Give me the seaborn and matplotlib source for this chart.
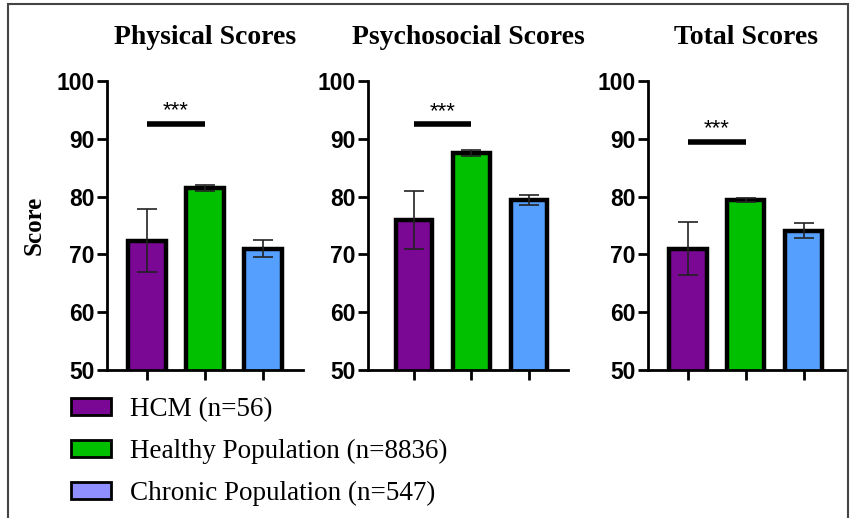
import numpy as np
import pandas as pd
import seaborn as sns
import matplotlib.pyplot as plt
from matplotlib.patches import Patch, Rectangle

# data
groups = ['HCM (n=56)', 'Healthy Population (n=8836)', 'Chronic Population (n=547)']
panels = ['Physical Scores', 'Psychosocial Scores', 'Total Scores']
means = {
    'Physical Scores': [72.4, 81.5, 71.0],
    'Psychosocial Scores': [76.0, 87.5, 79.4],
    'Total Scores': [71.0, 79.4, 74.1],
}
errs = {
    'Physical Scores': [5.4, 0.5, 1.5],
    'Psychosocial Scores': [5.0, 0.5, 0.8],
    'Total Scores': [4.6, 0.3, 1.3],
}
sig_level = [92.6, 92.5, 89.5]
yticks = [50, 60, 70, 80, 90, 100]

bar_colors = ['#7a0895', '#00c000', '#55a0ff']
legend_colors = ['#7a0895', '#00c000', '#8f8fff']

sns.set_style('ticks')
plt.rcParams['font.family'] = ['Liberation Sans', 'DejaVu Sans']
plt.rcParams['text.color'] = 'black'
plt.rcParams['axes.labelcolor'] = 'black'
plt.rcParams['xtick.color'] = 'black'
plt.rcParams['ytick.color'] = 'black'

W, H = 853, 518
fig = plt.figure(figsize=(W / 100, H / 100), dpi=100)

# axes placement in pixels: left, right, top, bottom
boxes = [(107, 303, 81, 370), (368, 568, 81, 370), (648, 845, 81, 370)]
xlims = [(-0.69, 2.69), (-0.8, 2.68), (-0.69, 2.71)]

for i, name in enumerate(panels):
    l, r, t, b = boxes[i]
    ax = fig.add_axes([l / W, 1 - b / H, (r - l) / W, (b - t) / H])
    df = pd.DataFrame({'group': groups, 'score': means[name]})
    sns.barplot(data=df, x='group', y='score', hue='group', palette=bar_colors,
                saturation=1, width=0.64, edgecolor='black', linewidth=3.2,
                legend=False, ax=ax, zorder=2)
    ax.errorbar(np.arange(3), means[name], yerr=errs[name], fmt='none',
                ecolor='#222222', elinewidth=1.2, capsize=7, capthick=1.2, zorder=3)
    ax.set_ylim(50, 100)
    ax.set_xlim(*xlims[i])
    ax.set_yticks(yticks)
    ax.set_yticklabels([str(v) for v in yticks], fontsize=16.5, fontweight='bold')
    ax.set_xticks([0, 1, 2])
    ax.set_xticklabels([])
    ax.set_xlabel('')
    ax.set_ylabel('')
    for s in ['top', 'right']:
        ax.spines[s].set_visible(False)
    for s in ['left', 'bottom']:
        ax.spines[s].set_linewidth(2)
        ax.spines[s].set_color('black')
    ax.tick_params(width=2, length=7, color='black', pad=2)
    ax.set_title(name, fontsize=20, fontweight='bold', family='Liberation Serif', pad=27)
    # significance bar between HCM and healthy
    ax.plot([0, 1], [sig_level[i], sig_level[i]], color='black', lw=4,
            solid_capstyle='butt', clip_on=False)
    ax.text(0.5, sig_level[i] + 0.4, '***', ha='center', va='bottom', fontsize=16)
    if i == 0:
        ax.set_ylabel('Score', fontsize=18, fontweight='bold', family='Liberation Serif',
                      labelpad=8)

handles = [Patch(facecolor=c, edgecolor='black', linewidth=2) for c in legend_colors]
fig.legend(handles, groups, loc='upper left', bbox_to_anchor=(47 / W, 1 - 373 / H),
           frameon=False, prop={'family': 'Liberation Serif', 'size': 19.5},
           handlelength=1.45, handleheight=0.6, handletextpad=0.7, labelspacing=0.62)

fig.patches.append(Rectangle((8 / W, -0.01), 840 / W, 1.01 - 4 / H,
                             transform=fig.transFigure, fill=False,
                             edgecolor='#444444', linewidth=1.5))

fig.savefig('out.png', dpi=100)
